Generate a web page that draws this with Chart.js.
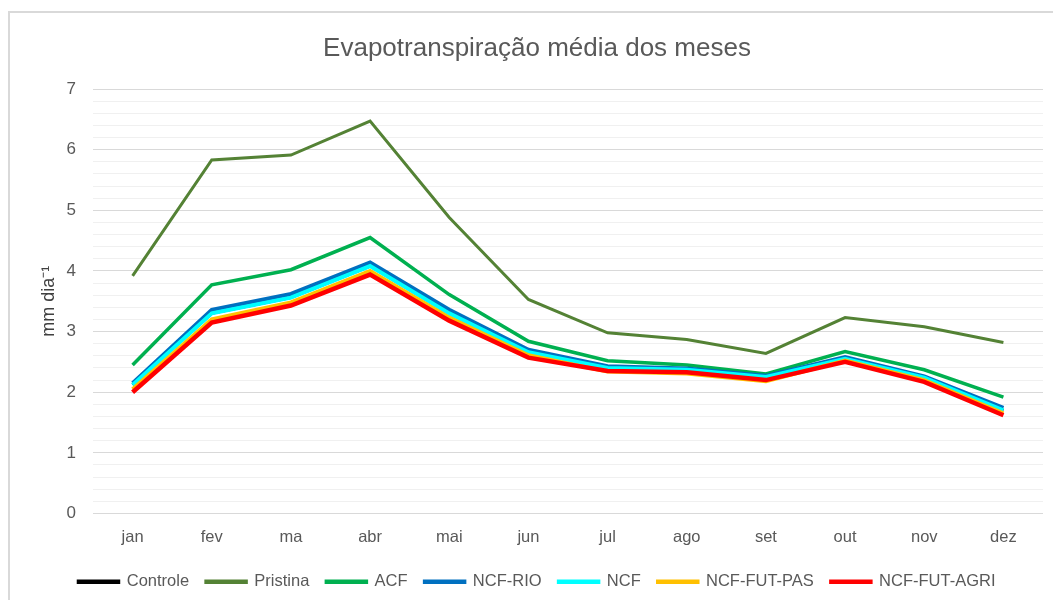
<!DOCTYPE html>
<html>
<head>
<meta charset="utf-8">
<script src="https://cdn.jsdelivr.net/npm/chart.js@4"></script>
<style>
html,body{margin:0;padding:0;background:#fff;}
#wrap{width:1053px;height:600px;position:relative;}
</style>
</head>
<body>
<div id="wrap"><canvas id="c" width="1053" height="600"></canvas></div>
<script>
const months = ['jan','fev','ma','abr','mai','jun','jul','ago','set','out','nov','dez'];
const controle   = [2.12,3.30,3.56,4.08,3.30,2.66,2.40,2.37,2.25,2.55,2.24,1.70];
const pristina   = [3.92,5.83,5.91,6.47,4.88,3.53,2.98,2.87,2.64,3.23,3.08,2.82];
const acf        = [2.45,3.77,4.02,4.55,3.61,2.84,2.52,2.45,2.30,2.67,2.37,1.92];
const ncfRio     = [2.15,3.36,3.62,4.14,3.36,2.70,2.43,2.39,2.27,2.58,2.26,1.74];
const ncf        = [2.12,3.30,3.56,4.08,3.30,2.66,2.40,2.37,2.25,2.55,2.24,1.70];
const ncfFutPas  = [2.05,3.20,3.48,4.00,3.23,2.61,2.34,2.31,2.18,2.52,2.20,1.65];
const ncfFutAgri = [2.00,3.15,3.43,3.94,3.18,2.57,2.35,2.33,2.20,2.50,2.17,1.62];
const seriesNames = ['Controle','Pristina','ACF','NCF-RIO','NCF','NCF-FUT-PAS','NCF-FUT-AGRI'];
const seriesColors = ['#000000','#548235','#00b050','#0070c0','#00ffff','#ffc000','#ff0000'];
const seriesData = [controle, pristina, acf, ncfRio, ncf, ncfFutPas, ncfFutAgri];
const seriesWidths = [3, 3, 3.5, 4, 4, 4, 4.5];

const FONT = "'Liberation Sans', Arial, sans-serif";
const PAD_LEFT = 31;

const frame = {
  id: 'frame',
  beforeDraw(chart) {
    const ctx = chart.ctx;
    ctx.save();
    ctx.fillStyle = '#ffffff';
    ctx.fillRect(0, 0, chart.width, chart.height);
    ctx.strokeStyle = '#d9d9d9';
    ctx.lineWidth = 2;
    ctx.strokeRect(9, 12, 1200, 800);
    ctx.restore();
  }
};

const datasets = seriesNames.map((name, i) => ({
  label: name,
  data: seriesData[i],
  borderColor: seriesColors[i],
  backgroundColor: seriesColors[i],
  borderWidth: seriesWidths[i],
  pointRadius: 0,
  pointHoverRadius: 0,
  tension: 0,
  fill: false,
  order: seriesNames.length - 1 - i
}));

new Chart(document.getElementById('c'), {
  type: 'line',
  data: { labels: months, datasets },
  plugins: [frame],
  options: {
    responsive: false,
    animation: false,
    events: [],
    layout: { padding: { left: PAD_LEFT, right: 10, top: 22, bottom: 0 } },
    plugins: {
      title: {
        display: true,
        text: 'Evapotranspiração média dos meses',
        color: '#595959',
        font: { family: FONT, size: 26, weight: 'normal' },
        padding: { top: 11, bottom: 24.8 }
      },
      legend: {
        position: 'bottom',
        labels: {
          color: '#595959',
          font: { family: FONT, size: 16.5 },
          boxWidth: 40,
          boxHeight: 1,
          padding: 17,
          sort: (a, b) => a.datasetIndex - b.datasetIndex,
          generateLabels(chart) {
            const items = Chart.defaults.plugins.legend.labels.generateLabels(chart);
            items.forEach(it => { it.lineWidth = 3.5; it.lineCap = 'round'; });
            return items;
          }
        }
      },
      tooltip: { enabled: false }
    },
    scales: {
      x: {
        offset: true,
        afterFit(scale) { scale.height = 43; },
        grid: { display: false, drawTicks: false },
        border: { display: false },
        ticks: { color: '#595959', font: { family: FONT, size: 16.5 }, padding: 14 }
      },
      y: {
        min: 0,
        max: 7,
        afterFit(scale) { scale.width = 93 - PAD_LEFT; },
        border: { display: false },
        grid: {
          drawTicks: false,
          color(ctx) {
            const v = ctx.tick ? ctx.tick.value : 0;
            return Math.abs(v - Math.round(v)) < 1e-6 ? '#d9d9d9' : '#f0f0f0';
          },
          lineWidth: 1
        },
        ticks: {
          stepSize: 0.2,
          autoSkip: false,
          color: '#595959',
          font: { family: FONT, size: 17 },
          padding: 17,
          callback(v) {
            return Math.abs(v - Math.round(v)) < 1e-6 ? String(Math.round(v)) : '';
          }
        },
        title: {
          display: true,
          text: 'mm dia⁻¹',
          color: '#404040',
          font: { family: FONT, size: 18 },
          padding: { top: 7, bottom: 0 }
        }
      }
    }
  }
});
</script>
</body>
</html>
